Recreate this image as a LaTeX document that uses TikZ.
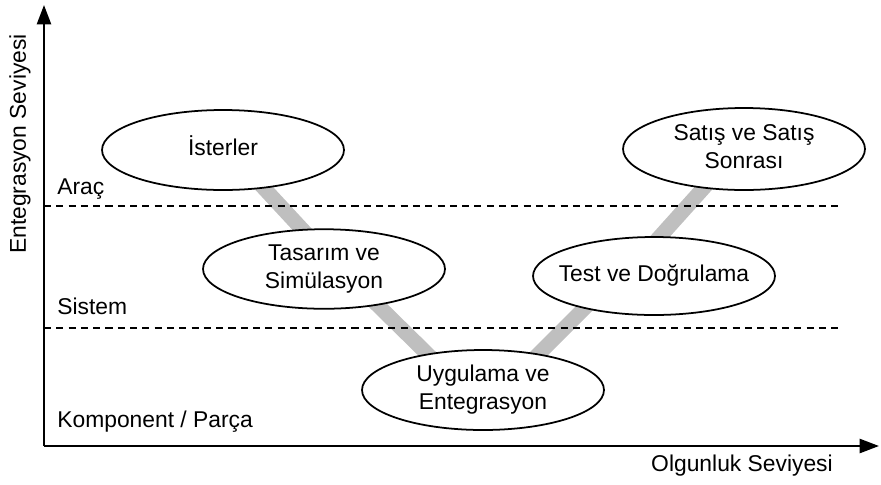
\documentclass[tikz,border=0pt]{standalone}
\usepackage{fontspec}
\setmainfont{Liberation Sans}
\usepackage{tikz}
\usetikzlibrary{arrows.meta,backgrounds,shapes.geometric}

\newcommand{\phasetext}[1]{\makebox[0pt]{\begin{tabular}{@{}c@{}}#1\end{tabular}}}

\begin{document}
\begin{tikzpicture}[x=0.02cm,y=-0.02cm,
  every node/.style={font=\fontsize{13}{16}\selectfont},
  phase/.style={ellipse,draw,fill=white,line width=1pt,inner sep=0pt,minimum width=4.84cm,minimum height=1.6cm},
  vline/.style={line width=8.5pt,draw=black!25,shorten <=-6pt,shorten >=-6pt},
  levelline/.style={line width=0.9pt,dash pattern=on 4pt off 3pt},
  lbl/.style={anchor=base west,inner sep=0pt},
  axis/.style={line width=1.3pt,-{Triangle[length=11pt,width=8pt]}}]
\useasboundingbox (0,0) rectangle (881,484);

\node[phase] (ister) at (223,150) {\phasetext{İsterler}};
\node[phase,minimum height=1.56cm] (tasarim) at (324,269) {\phasetext{Tasarım ve\\Simülasyon}};
\node[phase] (uygulama) at (483,390) {\phasetext{Uygulama ve\\Entegrasyon}};
\node[phase,minimum height=1.56cm] (test) at (654,276) {\phasetext{Test ve Doğrulama}};
\node[phase,minimum height=1.64cm] (satis) at (744,149) {\phasetext{Satış ve Satış\\Sonrası}};

\begin{scope}[on background layer]
\draw[vline] (ister.-43) -- (tasarim.119);
\draw[vline] (tasarim.-34) -- (uygulama.147);
\draw[vline] (uygulama.33) -- (test.205);
\draw[vline] (test.81) -- (satis.224);
% seviye cizgileri
\draw[levelline] (44,206) -- (843,206);
\draw[levelline] (44,328) -- (843,328);
\end{scope}

\node[lbl] (arac) at (57,194) {Araç};
\node[lbl] (sistem) at (57,314) {Sistem};
\node[lbl] (komponent) at (57,427) {Komponent / Parça};

% eksenler
\coordinate (o) at (44,446);
\coordinate (ytip) at (44,5);
\coordinate (xtip) at (879,446);
\draw[axis] (o) -- (ytip);
\draw[axis] (o) -- (xtip);
\node[rotate=90,inner sep=0pt] (ylabel) at (20,144) {Entegrasyon Seviyesi};
\node[anchor=base,inner sep=0pt] (xlabel) at (742,471) {Olgunluk Seviyesi};
\end{tikzpicture}
\end{document}
